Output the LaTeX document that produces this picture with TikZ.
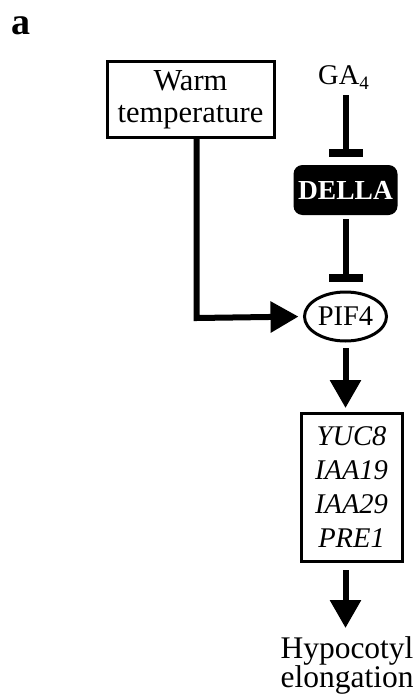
\documentclass[tikz,border=0pt]{standalone}
\usepackage{fontspec}
\setmainfont{Liberation Serif}
\usetikzlibrary{arrows.meta,shapes.geometric}
\begin{document}
\begin{tikzpicture}[x=1pt,y=-1pt,
  boxnode/.style={draw=black,line width=3pt,inner sep=0pt,outer sep=0pt,align=center},
  actline/.style={line width=6pt,-{Triangle[width=30pt,length=28pt]}},
  inhline/.style={line width=6pt,-{Bar[width=34pt,line width=2pt 1]}},
]
\useasboundingbox (0,0) rectangle (416,698);
% panel label
\node[anchor=base west,inner sep=0pt,font=\fontsize{38}{38}\selectfont\bfseries] (lbl) at (11,35) {a};
% nodes
\node[boxnode,minimum width=167pt,minimum height=75pt,font=\fontsize{30.5}{32}\selectfont] (warm) at (190.5,99.5) {Warm\\temperature};
\node[anchor=base,inner sep=0pt,font=\fontsize{28.5}{28}\selectfont] (ga) at (343.5,85) {GA\raisebox{-5pt}{\fontsize{19}{19}\selectfont 4}};
\node[fill=black,rounded corners=9pt,inner sep=0pt,outer sep=0pt,minimum width=104pt,minimum height=50pt,text=white,font=\fontsize{27.5}{28}\selectfont\bfseries] (della) at (345.5,190) {DELLA};
\node[draw=black,line width=3pt,ellipse,inner sep=0pt,outer sep=0pt,minimum width=82pt,minimum height=49pt,font=\fontsize{28.5}{28}\selectfont] (pif) at (345.5,316.5) {PIF4};
\node[boxnode,minimum width=101pt,minimum height=148pt,font=\fontsize{28.5}{34}\selectfont\itshape] (genes) at (351.5,487) {YUC8\\IAA19\\IAA29\\PRE1};
\node[anchor=north,inner sep=0pt,align=center,font=\fontsize{31.5}{29}\selectfont] (hyp) at (347,636) {Hypocotyl\\elongation};
\coordinate (bend) at (196.5,318);
% connectors
\draw[inhline,shorten <=5pt,shorten >=8pt] (ga.south -| della.north) -- (della.north);
\draw[inhline,shorten <=4pt,shorten >=10.5pt] (della.south) -- (pif.north);
\draw[actline,line join=miter,shorten >=6pt] (warm.south -| bend) -- (bend) -- (pif.west);
\draw[actline,shorten <=7pt,shorten >=5pt] (pif.south) -- (pif.south |- genes.north);
\draw[actline,shorten <=9pt,shorten >=8pt] (genes.south -| pif.south) -- (hyp.north -| pif.south);
\end{tikzpicture}
\end{document}
